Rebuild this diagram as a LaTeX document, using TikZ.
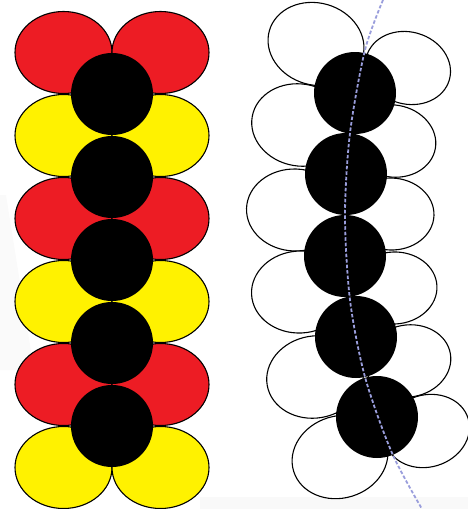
\documentclass[tikz,border=0pt]{standalone}
\usepackage{xcolor}
\definecolor{petalred}{HTML}{ED1C24}
\definecolor{petalyellow}{HTML}{FFF200}
\definecolor{axisblue}{HTML}{9A9EDC}
\usepackage{tikz}
\usetikzlibrary{shapes.geometric}
\tikzstyle{petal}    = [ellipse, draw=black, line width=1.1pt, inner sep=0pt,
                        minimum width=97pt, minimum height=82pt, fill=white]
\tikzstyle{smallpetal} = [petal, minimum width=86pt, minimum height=72pt]
\tikzstyle{redpetal} = [petal, fill=petalred]
\tikzstyle{yelpetal} = [petal, fill=petalyellow]
\tikzstyle{bead}     = [circle, fill=black, inner sep=0pt, minimum size=82pt]
\tikzstyle{axisline} = [axisblue, line width=1.8pt, dash pattern=on 3.5pt off 2pt]

\begin{document}
\begin{tikzpicture}[x=1pt, y=-1pt]
  \useasboundingbox (0,0) rectangle (468,509);
  \clip (0,0) rectangle (468,509);
  % faint slide background
  \fill[gray!5] (200,497) rectangle (468,509);
  \fill[gray!4] (0,195) -- (6,195) -- (34,370) -- (0,370) -- cycle;

  % left chain
  \node[redpetal] (la1) at (63.5,52.5)  {};
  \node[redpetal] (lb1) at (160.5,52.5) {};
  \node[yelpetal] (la2) at (63.5,135.5)  {};
  \node[yelpetal] (lb2) at (160.5,135.5) {};
  \node[redpetal] (la3) at (63.5,218.5)  {};
  \node[redpetal] (lb3) at (160.5,218.5) {};
  \node[yelpetal] (la4) at (63.5,301.5)  {};
  \node[yelpetal] (lb4) at (160.5,301.5) {};
  \node[redpetal] (la5) at (63.5,384.5)  {};
  \node[redpetal] (lb5) at (160.5,384.5) {};
  \node[yelpetal] (la6) at (63.5,467.5)  {};
  \node[yelpetal] (lb6) at (160.5,467.5) {};

  \node[bead] (lbead1) at (112,94)  {};
  \node[bead] (lbead2) at (112,177) {};
  \node[bead] (lbead3) at (112,260) {};
  \node[bead] (lbead4) at (112,343) {};
  \node[bead] (lbead5) at (112,426) {};

  % right chain, bent
  \node[petal, rotate=-16]      (ra1) at (316,44)  {};
  \node[smallpetal, rotate=-16] (rb1) at (408,68)  {};
  \node[petal, rotate=-10]      (ra2) at (300,125) {};
  \node[smallpetal, rotate=-10] (rb2) at (393,141) {};
  \node[petal, rotate=-2]       (ra3) at (295,210) {};
  \node[smallpetal, rotate=-2]  (rb3) at (391,214) {};
  \node[petal, rotate=3]        (ra4) at (300,292) {};
  \node[smallpetal, rotate=3]   (rb4) at (394,288) {};
  \node[petal, rotate=10]       (ra5) at (315,377) {};
  \node[smallpetal, rotate=10]  (rb5) at (408,361) {};
  \node[petal, rotate=17]       (ra6) at (340,457) {};
  \node[smallpetal, rotate=17]  (rb6) at (427,431) {};

  \node[bead] (rbead1) at (355,93)  {};
  \node[bead] (rbead2) at (346,174) {};
  \node[bead] (rbead3) at (345,256) {};
  \node[bead] (rbead4) at (356,337) {};
  \node[bead] (rbead5) at (377,417) {};

  \draw[axisline] plot[smooth] coordinates
    {(383,0) (365,50) (350,133) (345,215) (350,300) (365,377) (392,453) (422,509)};
\end{tikzpicture}
\end{document}
